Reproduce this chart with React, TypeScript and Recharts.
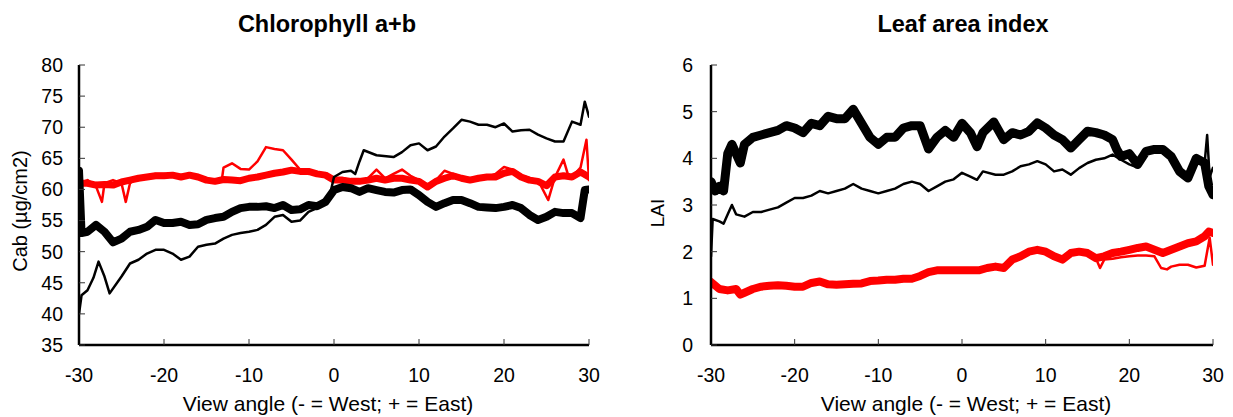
import React from "react";
import { LineChart, Line, XAxis, YAxis, Label } from "recharts";

type Pt = [number, number];

const angleTicks = [-30, -20, -10, 0, 10, 20, 30];
const cabTicks = [35, 40, 45, 50, 55, 60, 65, 70, 75, 80];
const laiTicks = [0, 1, 2, 3, 4, 5, 6];

// Chlorophyll a+b panel: [view angle, value]
const cabThickBlack: Pt[] = [
  [-30, 63], [-29.7, 53], [-29, 53.2], [-28, 54.3], [-27, 53.2], [-26, 51.5], [-25, 52.1], [-24, 53.2],
  [-23, 53.5], [-22, 54], [-21, 55.1], [-20, 54.6], [-19, 54.6], [-18, 54.8], [-17, 54.3], [-16, 54.4],
  [-15, 55.1], [-14, 55.4], [-13, 55.6], [-12, 56.4], [-11, 57], [-10, 57.2], [-9, 57.2], [-8, 57.3],
  [-7, 57], [-6, 57.5], [-5, 56.7], [-4, 56.8], [-3, 57.5], [-2, 57.3], [-1, 58], [0, 59.9], [1, 60.4],
  [2, 60.2], [3, 59.6], [4, 60.2], [5, 59.9], [6, 59.6], [7, 59.5], [8, 59.9], [9, 60], [10, 59.1],
  [11, 58], [12, 57.2], [13, 57.8], [14, 58.3], [15, 58.3], [16, 57.8], [17, 57.2], [18, 57.1], [19, 57],
  [20, 57.2], [21, 57.5], [22, 57], [23, 55.9], [24, 55.1], [25, 55.6], [26, 56.4], [27, 56.2], [28, 56.2],
  [29, 55.4], [29.5, 59.9], [30, 60],
];
const cabThinBlack: Pt[] = [
  [-30, 40], [-29.7, 43], [-29, 43.8], [-28.3, 45.8], [-27.7, 48.4], [-27, 46], [-26.4, 43.3], [-25, 46],
  [-24, 48.1], [-23, 48.7], [-22, 49.7], [-21, 50.3], [-20, 50.3], [-19, 49.7], [-18, 48.7], [-17, 49.2],
  [-16, 50.8], [-15, 51.1], [-14, 51.3], [-13, 52.1], [-12, 52.7], [-11, 53], [-10, 53.2], [-9, 53.5],
  [-8, 54.3], [-7, 55.6], [-6, 55.9], [-5, 54.8], [-4, 55], [-3, 56.4], [-2, 57], [-1, 57.8], [-0.5, 59],
  [0, 62], [1, 62.8], [2, 63], [2.5, 62.5], [3, 64.5], [3.5, 66.3], [5, 65.5], [7, 65.2], [8, 66], [9, 67.1],
  [10, 67.4], [11, 66.3], [12, 66.9], [13, 68.5], [14, 69.8], [15, 71.2], [16, 70.9], [17, 70.4], [18, 70.4],
  [19, 70], [20, 70.6], [21, 69.3], [22, 69.5], [23, 69.6], [24, 68.8], [25, 68.2], [26, 67.7], [27, 67.7],
  [28, 70.9], [29, 70.4], [29.5, 74.1], [30, 71.7],
];
const cabThickRed: Pt[] = [
  [-30, 61], [-29, 61], [-28, 60.7], [-27, 60.8], [-26, 60.7], [-25, 61.2], [-24, 61.5], [-23, 61.8],
  [-22, 62], [-21, 62.2], [-20, 62.2], [-19, 62.3], [-18, 62], [-17, 62.3], [-16, 62], [-15, 61.5],
  [-14, 61.3], [-13, 61.6], [-12, 61.5], [-11, 61.4], [-10, 61.8], [-9, 62], [-8, 62.3], [-7, 62.6],
  [-6, 62.8], [-5, 63.1], [-4, 62.9], [-3, 62.9], [-2, 62.5], [-1, 62.3], [0, 61.5], [1, 61.5], [2, 61.3],
  [3, 61.3], [4, 61.5], [5, 61.8], [6, 61.5], [7, 61.8], [8, 61.8], [9, 61.5], [10, 61.3], [11, 60.4],
  [12, 61.3], [13, 61.8], [14, 62.2], [15, 61.8], [16, 61.5], [17, 61.8], [18, 62], [19, 62], [20, 62.6],
  [21, 62.9], [22, 62], [23, 61.5], [24, 61.3], [25, 60.6], [26, 62], [27, 62.2], [28, 62], [29, 62.8],
  [30, 62],
];
const cabThinRed: Pt[] = [
  [-30, 61], [-29, 61.5], [-28, 60.5], [-27.3, 58], [-27, 61], [-26, 61.5], [-25, 61], [-24.5, 58],
  [-24, 61], [-23, 62], [-22, 62], [-21, 62.5], [-20, 62.5], [-19, 62.3], [-18, 62.3], [-17, 62.5],
  [-16, 62], [-15, 61.5], [-14, 61.2], [-13.2, 61.5], [-13, 63.5], [-12, 64.2], [-11, 63.3], [-10, 63.2],
  [-9, 64.5], [-8, 66.8], [-7, 66.5], [-6, 66.3], [-5, 64.8], [-4, 63.2], [-3, 62.5], [-2, 62.8],
  [-1, 62.2], [0, 61.5], [1, 61.8], [2, 61.5], [3, 61.3], [4, 61.8], [5, 63.2], [6, 61.8], [7, 62.5],
  [8, 63.2], [9, 62.2], [10, 61.5], [11, 60.5], [12, 61.5], [13, 63], [14, 62.5], [15, 62], [16, 61.8],
  [17, 62], [18, 62], [19, 62.5], [20, 63.6], [21, 63.2], [22, 62.3], [23, 61.8], [24, 61.5], [25.2, 58.3],
  [26, 62], [27, 64.8], [27.5, 62.5], [28, 62], [29, 63.5], [29.7, 68], [30, 61.5],
];

// Leaf area index panel
const laiThickBlack: Pt[] = [
  [-30, 3.5], [-29.5, 3.3], [-29, 3.4], [-28.5, 3.3], [-28, 4.1], [-27.5, 4.3], [-27, 4.1], [-26.5, 3.9],
  [-26, 4.3], [-25, 4.45], [-24, 4.5], [-23, 4.55], [-22, 4.6], [-21, 4.7], [-20, 4.65], [-19, 4.55],
  [-18, 4.75], [-17, 4.7], [-16, 4.9], [-15, 4.85], [-14, 4.85], [-13, 5.05], [-12, 4.75], [-11, 4.45],
  [-10, 4.3], [-9, 4.45], [-8, 4.45], [-7, 4.65], [-6, 4.7], [-5, 4.7], [-4, 4.2], [-3, 4.45], [-2, 4.6],
  [-1, 4.45], [0, 4.75], [1, 4.55], [1.8, 4.25], [2.5, 4.55], [3.8, 4.78], [5, 4.4], [6, 4.55], [7, 4.5],
  [8, 4.58], [9, 4.76], [10, 4.65], [11, 4.5], [12, 4.4], [13, 4.22], [14, 4.4], [15, 4.58], [16, 4.55],
  [17, 4.5], [18, 4.4], [18.5, 4.19], [19, 4.04], [20, 4.1], [21, 3.87], [22, 4.15], [23, 4.19], [24, 4.19],
  [25, 4.04], [26, 3.72], [27, 3.58], [28, 4.0], [29, 3.9], [29.5, 3.4], [30, 3.22],
];
const laiThinBlack: Pt[] = [
  [-30, 1.9], [-29.8, 2.7], [-29, 2.65], [-28.5, 2.6], [-28, 2.8], [-27.5, 3.0], [-27, 2.8], [-26, 2.75],
  [-25, 2.85], [-24, 2.85], [-23, 2.9], [-22, 2.95], [-21, 3.05], [-20, 3.15], [-19, 3.15], [-18, 3.2],
  [-17, 3.3], [-16, 3.25], [-15, 3.3], [-14, 3.35], [-13, 3.45], [-12, 3.35], [-11, 3.3], [-10, 3.25],
  [-9, 3.3], [-8, 3.35], [-7, 3.45], [-6, 3.5], [-5, 3.45], [-4, 3.3], [-3, 3.4], [-2, 3.5], [-1, 3.55],
  [0, 3.69], [1, 3.61], [1.8, 3.54], [2.5, 3.72], [4, 3.65], [5, 3.65], [6, 3.72], [7, 3.83], [8, 3.87],
  [9, 3.94], [10, 3.87], [11, 3.72], [12, 3.76], [13, 3.65], [14, 3.79], [15, 3.9], [16, 3.97], [17, 4.0],
  [18, 4.08], [19, 3.97], [20, 3.87], [21, 3.8], [22, 4.1], [23, 4.17], [24, 4.15], [25, 4.0], [26, 3.75],
  [27, 3.62], [28, 3.95], [29, 3.9], [29.3, 4.5], [29.6, 3.6], [30, 3.8],
];
const laiThickRed: Pt[] = [
  [-30, 1.35], [-29, 1.2], [-28, 1.17], [-27, 1.2], [-26.5, 1.08], [-26, 1.12], [-25, 1.2], [-24, 1.25],
  [-23, 1.27], [-22, 1.28], [-21, 1.27], [-20, 1.25], [-19, 1.25], [-18, 1.33], [-17, 1.36], [-16, 1.3],
  [-15, 1.29], [-14, 1.3], [-13, 1.31], [-12, 1.32], [-11, 1.37], [-10, 1.38], [-9, 1.4], [-8, 1.4],
  [-7, 1.42], [-6, 1.42], [-5, 1.48], [-4, 1.56], [-3, 1.6], [-2, 1.6], [-1, 1.6], [0, 1.6], [1, 1.6],
  [2, 1.6], [3, 1.65], [4, 1.68], [5, 1.65], [6, 1.83], [7, 1.9], [8, 2.0], [9, 2.04], [10, 2.0], [11, 1.9],
  [12, 1.83], [13, 1.97], [14, 2.0], [15, 1.97], [16, 1.86], [17, 1.9], [18, 1.97], [19, 2.0], [20, 2.04],
  [21, 2.08], [22, 2.11], [23, 2.04], [24, 1.97], [25, 2.04], [26, 2.11], [27, 2.18], [28, 2.22], [29, 2.33],
  [29.5, 2.43], [30, 2.4],
];
const laiThinRedTail: Pt[] = [
  [16, 1.86], [16.5, 1.65], [17, 1.83], [18, 1.85], [19, 1.88], [20, 1.9], [21, 1.92], [22, 1.92],
  [23, 1.9], [23.8, 1.65], [24.5, 1.62], [25, 1.68], [26, 1.72], [27, 1.72], [28, 1.66], [29, 1.7],
  [29.6, 2.3], [30, 1.72],
];
const laiThinRed: Pt[] = [...laiThickRed.filter((p) => p[0] < 16), ...laiThinRedTail];

const font = '"Liberation Sans", Arial, Helvetica, sans-serif';
const rows = (pts: Pt[]) => pts.map(([a, v]) => ({ a, v }));

type Series = { pts: Pt[]; color: string; width: number };

type PanelProps = {
  title: string;
  titleDx: number;
  xLabelDx: number;
  yLabel: string;
  yTicks: number[];
  series: Series[];
  width: number;
  left: number;
  yAxisWidth: number;
  rightMargin: number;
  yLabelX: number;
  yLabelY: number;
  yLabelSize: number;
  yTickMargin: number;
};

function Panel(p: PanelProps) {
  const plotLeft = p.yAxisWidth;
  const plotRight = p.width - p.rightMargin;
  const cx = (plotLeft + plotRight) / 2;
  const domain: [number, number] = [p.yTicks[0], p.yTicks[p.yTicks.length - 1]];
  const frame = { stroke: "#000", strokeWidth: 2.5 };
  const tickLine = { stroke: "#333", strokeWidth: 1 };
  const tickText = { fill: "#000", fontSize: 19.5, fontFamily: font };
  return (
    <div style={{ position: "absolute", left: p.left, top: 0 }}>
      <LineChart width={p.width} height={417} margin={{ top: 65, right: p.rightMargin, bottom: 0, left: 0 }}>
        <XAxis
          xAxisId="b"
          dataKey="a"
          type="number"
          domain={[-30, 30]}
          ticks={angleTicks}
          interval={0}
          height={72}
          tickSize={-6}
          tickMargin={29}
          axisLine={frame}
          tickLine={tickLine}
          tick={tickText}
          allowDataOverflow
        >
          <Label
            content={() => (
              <g>
                <text x={cx + p.xLabelDx} y={411} textAnchor="middle" fontSize={21} fontFamily={font} fill="#000">
                  View angle (- = West; + = East)
                </text>
                <text
                  x={cx + p.titleDx}
                  y={31.5}
                  textAnchor="middle"
                  fontSize={23.5}
                  fontWeight="bold"
                  fontFamily={font}
                  fill="#000"
                >
                  {p.title}
                </text>
              </g>
            )}
          />
        </XAxis>
        <XAxis
          xAxisId="t"
          orientation="top"
          dataKey="a"
          type="number"
          domain={[-30, 30]}
          ticks={angleTicks}
          interval={0}
          height={0}
          tickSize={-6}
          axisLine={frame}
          tickLine={tickLine}
          tickFormatter={() => ""}
          allowDataOverflow
        />
        <YAxis
          yAxisId="l"
          type="number"
          domain={domain}
          ticks={p.yTicks}
          interval={0}
          width={p.yAxisWidth}
          tickSize={-6}
          tickMargin={p.yTickMargin}
          axisLine={frame}
          tickLine={tickLine}
          tick={tickText}
          allowDataOverflow
        >
          <Label
            content={() => (
              <text
                x={p.yLabelX}
                y={p.yLabelY}
                transform={`rotate(-90, ${p.yLabelX}, ${p.yLabelY})`}
                textAnchor="middle"
                dominantBaseline="central"
                fontSize={p.yLabelSize}
                fontFamily={font}
                fill="#000"
              >
                {p.yLabel}
              </text>
            )}
          />
        </YAxis>
        <YAxis
          yAxisId="r"
          orientation="right"
          type="number"
          domain={domain}
          ticks={p.yTicks}
          interval={0}
          width={0}
          tickSize={-6}
          axisLine={frame}
          tickLine={tickLine}
          tickFormatter={() => ""}
          allowDataOverflow
        />
        {p.series.map((s, i) => (
          <Line
            key={i}
            xAxisId="b"
            yAxisId="l"
            data={rows(s.pts)}
            dataKey="v"
            type="linear"
            stroke={s.color}
            strokeWidth={s.width}
            strokeLinejoin="round"
            strokeLinecap="round"
            dot={false}
            activeDot={false}
            isAnimationActive={false}
          />
        ))}
      </LineChart>
    </div>
  );
}

export default function App() {
  return (
    <div style={{ position: "absolute", left: 0, top: 0, width: 1233, height: 417, background: "#fff", fontFamily: font }}>
      <Panel
        title="Chlorophyll a+b"
        titleDx={-7}
        xLabelDx={-6}
        yLabel="Cab (µg/cm2)"
        yTicks={cabTicks}
        series={[
          { pts: cabThickRed, color: "#ff0000", width: 7 },
          { pts: cabThinRed, color: "#ff0000", width: 2.5 },
          { pts: cabThickBlack, color: "#000000", width: 8 },
          { pts: cabThinBlack, color: "#000000", width: 2.5 },
        ]}
        width={620}
        left={0}
        yAxisWidth={79}
        rightMargin={31}
        yLabelX={20}
        yLabelY={211}
        yLabelSize={20}
        yTickMargin={22}
      />
      <Panel
        title="Leaf area index"
        titleDx={1}
        xLabelDx={4}
        yLabel="LAI"
        yTicks={laiTicks}
        series={[
          { pts: laiThickRed, color: "#ff0000", width: 8 },
          { pts: laiThinRed, color: "#ff0000", width: 2.5 },
          { pts: laiThickBlack, color: "#000000", width: 9 },
          { pts: laiThinBlack, color: "#000000", width: 2.5 },
        ]}
        width={613}
        left={620}
        yAxisWidth={91}
        rightMargin={20}
        yLabelX={37}
        yLabelY={213}
        yLabelSize={19}
        yTickMargin={24}
      />
    </div>
  );
}
